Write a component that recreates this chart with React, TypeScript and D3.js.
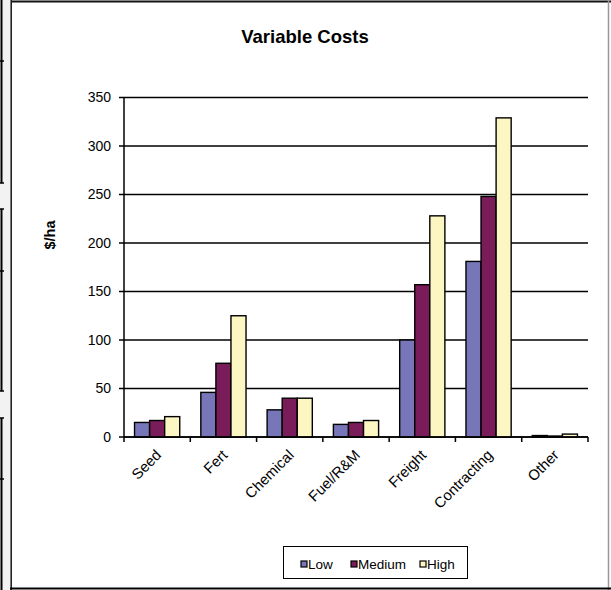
import React from "react";
import * as d3 from "d3";

const categories = ["Seed", "Fert", "Chemical", "Fuel/R&M", "Freight", "Contracting", "Other"];
const seriesNames = ["Low", "Medium", "High"];
const lowValues = [15, 46, 28, 13, 100, 181, 1.5];
const mediumValues = [17, 76, 40, 15, 157, 248, 1];
const highValues = [21, 125, 40, 17, 228, 329, 3];
const yTicks = [0, 50, 100, 150, 200, 250, 300, 350];
const colors = ["#7676b8", "#7a1c5a", "#fcf7c2"];

const W = 611;
const H = 590;
const FONT = "'Liberation Sans', Arial, sans-serif";

export default function App() {
  const series = [lowValues, mediumValues, highValues];
  const plotLeft = 124;
  const plotRight = 588;
  const plotTop = 97.5;
  const plotBottom = 437;

  const x = d3.scaleBand<string>().domain(categories).range([plotLeft, plotRight]).paddingInner(0).paddingOuter(0);
  const y = d3.scaleLinear().domain([0, 350]).range([plotBottom, plotTop]);
  const inner = d3
    .scaleBand<string>()
    .domain(seriesNames)
    .range([0, x.bandwidth()])
    .paddingInner(0)
    .paddingOuter(0.7);

  // left strip of spreadsheet cell borders
  const stubYs = [61, 183, 209, 271, 391, 418, 479];
  const segs = [
    [0, 183],
    [209, 391],
    [418, 590],
  ];

  return (
    <svg
      width={W}
      height={H}
      style={{ position: "absolute", left: 0, top: 0, fontFamily: FONT }}
    >
      <rect x={0} y={0} width={W} height={H} fill="#ffffff" />
      <rect x={0} y={0} width={10} height={H} fill="#f2f2f2" />
      {segs.map(([a, b], i) => (
        <line key={"s" + i} x1={1.5} x2={1.5} y1={a} y2={b} stroke="#000" strokeWidth={2} />
      ))}
      {stubYs.map((v, i) => (
        <line key={"h" + i} x1={0} x2={4} y1={v} y2={v} stroke="#000" strokeWidth={1.5} />
      ))}

      {/* chart frame */}
      <rect x={10} y={0} width={W - 10} height={H} fill="#ffffff" />
      <line x1={10} x2={W} y1={1.5} y2={1.5} stroke="#111" strokeWidth={2} />
      <line x1={10.5} x2={10.5} y1={0} y2={H} stroke="#777" strokeWidth={1} />
      <line x1={11.5} x2={11.5} y1={0} y2={H} stroke="#222" strokeWidth={1} />
      <line x1={608.5} x2={608.5} y1={0} y2={H} stroke="#999" strokeWidth={1.5} />
      <line x1={10} x2={W} y1={588.5} y2={588.5} stroke="#000" strokeWidth={2} />

      <text x={305} y={43} textAnchor="middle" fontSize={18.5} fontWeight="bold" fill="#000">
        Variable Costs
      </text>

      {/* gridlines */}
      {yTicks.map((t) => (
        <line
          key={"g" + t}
          x1={plotLeft - 5}
          x2={plotRight}
          y1={y(t)}
          y2={y(t)}
          stroke="#000"
          strokeWidth={1.3}
        />
      ))}
      {yTicks.map((t) => (
        <text
          key={"yt" + t}
          x={111}
          y={y(t)}
          dy="0.35em"
          textAnchor="end"
          fontSize={14}
          fill="#000"
        >
          {t}
        </text>
      ))}

      <text
        transform={`translate(55,235) rotate(-90)`}
        textAnchor="middle"
        fontSize={14.5}
        fontWeight="bold"
        fill="#000"
      >
        $/ha
      </text>

      {/* bars */}
      {categories.map((c, ci) => (
        <g key={c} transform={`translate(${x(c)},0)`}>
          {series.map((vals, si) => (
            <rect
              key={si}
              x={inner(seriesNames[si])}
              y={y(vals[ci])}
              width={inner.bandwidth()}
              height={plotBottom - y(vals[ci])}
              fill={colors[si]}
              stroke="#000"
              strokeWidth={1.4}
            />
          ))}
        </g>
      ))}

      {/* axes */}
      <line x1={plotLeft} x2={plotLeft} y1={plotTop} y2={plotBottom} stroke="#000" strokeWidth={1.5} />
      <line x1={plotLeft} x2={plotRight} y1={plotBottom} y2={plotBottom} stroke="#000" strokeWidth={1.5} />
      {categories.concat([""]).map((c, i) => {
        const xv = plotLeft + i * x.bandwidth();
        return (
          <line key={"xt" + i} x1={xv} x2={xv} y1={plotBottom} y2={plotBottom + 5} stroke="#000" strokeWidth={1.5} />
        );
      })}
      {categories.map((c) => {
        const cx = (x(c) as number) + x.bandwidth() / 2 + 5;
        return (
          <text
            key={"xl" + c}
            transform={`translate(${cx},${plotBottom + 19}) rotate(-45)`}
            textAnchor="end"
            fontSize={14.8}
            fill="#000"
          >
            {c}
          </text>
        );
      })}

      {/* legend */}
      <rect x={283.5} y={546.5} width={184} height={32} fill="#fff" stroke="#000" strokeWidth={1} />
      {seriesNames.map((n, i) => {
        const lx = [301, 351, 420][i];
        return (
          <g key={"lg" + n}>
            <rect x={lx} y={561} width={6} height={6} fill={colors[i]} stroke="#000" strokeWidth={1.2} />
            <text x={lx + 7} y={568.5} fontSize={13.5} fill="#000">
              {n}
            </text>
          </g>
        );
      })}
    </svg>
  );
}
